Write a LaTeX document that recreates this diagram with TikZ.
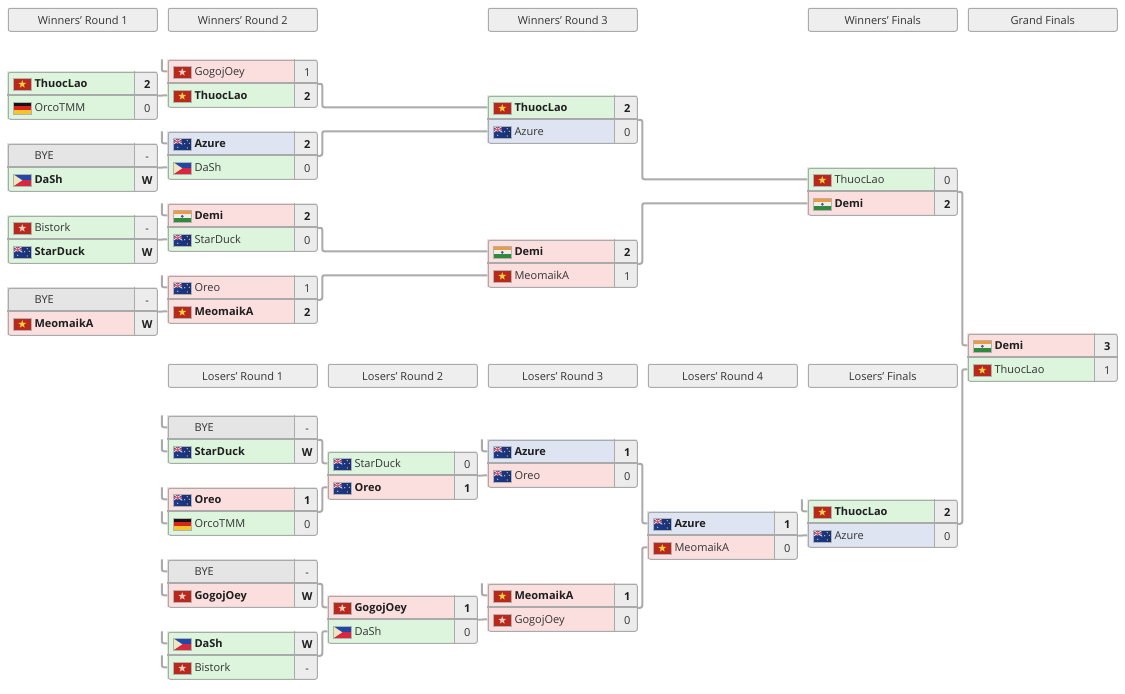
\documentclass[tikz,border=0pt]{standalone}
\usepackage{fontspec}
\setmainfont{Open Sans}
\definecolor{edge}{HTML}{AAAAAA}
\definecolor{rgreen}{HTML}{DDF4DD}
\definecolor{rred}{HTML}{FBDFDF}
\definecolor{rblue}{HTML}{DEE4F2}
\definecolor{rgrey}{HTML}{E5E5E5}
\definecolor{scorebg}{HTML}{ECECEC}
\definecolor{headbg}{HTML}{EEEEEE}
\definecolor{ink}{HTML}{333333}
\definecolor{flagredA}{HTML}{B9281A}
\definecolor{flagredB}{HTML}{E63D24}
\definecolor{flagstarY}{HTML}{F6D040}
\definecolor{flagstarW}{HTML}{F6C8C0}
\definecolor{flagnavy}{HTML}{1E3C8C}
\definecolor{flagnavyB}{HTML}{17306F}
\definecolor{flagcanton}{HTML}{5A4A86}
\definecolor{flagpink}{HTML}{E05A70}
\definecolor{flaggold}{HTML}{F2C62A}
\definecolor{flagderd}{HTML}{D8251B}
\definecolor{flagphb}{HTML}{2048A8}
\definecolor{flagphr}{HTML}{D8283F}
\definecolor{flagcream}{HTML}{EFE6C0}
\definecolor{flagorg}{HTML}{EE9A3E}
\definecolor{flaggrn}{HTML}{2F8A3C}
\definecolor{flagwhite}{HTML}{F0EEE6}
\tikzset{
  px/.style={x=0.75pt,y=-0.75pt},
  headbox/.style={draw=edge,line width=0.75pt,fill=headbg,rounded corners=1.5pt,minimum width=112.5pt-0.75pt,minimum height=18pt-0.75pt,inner sep=0pt,anchor=north west,text=ink,text height=7.7pt,text depth=0pt,font=\fontsize{8.25pt}{10pt}\selectfont},
  matchframe/.style={draw=edge,line width=0.75pt,rounded corners=1.5pt,minimum width=112.5pt-0.75pt,minimum height=36pt-0.75pt,inner sep=0pt,anchor=north west},
  rowbox/.style={minimum width=96pt,minimum height=18pt,inner sep=0pt,outer sep=0pt,anchor=north west},
  scorebox/.style={fill=scorebg,minimum width=16.5pt,minimum height=18pt,inner sep=0pt,outer sep=0pt,anchor=north west,text=ink,text height=7.7pt,text depth=0pt,font=\fontsize{8.25pt}{10pt}\selectfont},
  nametext/.style={inner sep=0pt,anchor=west,text=ink,text height=6.2pt,text depth=1.6pt,font=\fontsize{8.25pt}{10pt}\selectfont},
  conn/.style={draw=edge,line width=1.5pt,rounded corners=1.5pt},
  stub/.style={draw=edge,line width=1.5pt,rounded corners=1.5pt},
}
\newcommand{\starshape}[1]{\fill[#1] (9,1.9)--(9.95,4.7)--(12.9,4.75)--(10.55,6.5)--(11.4,9.3)--(9,7.65)--(6.6,9.3)--(7.45,6.5)--(5.1,4.75)--(8.05,4.7)--cycle;}
\newcommand{\flagvn}{\shade[left color=flagredA,middle color=flagredB,right color=flagredA] (0,0) rectangle (18,12);\starshape{flagstarY}}
\newcommand{\flaghk}{\shade[left color=flagredA,middle color=flagredB,right color=flagredA] (0,0) rectangle (18,12);\starshape{flagstarW}}
\newcommand{\flagde}{\fill[black!92] (0,0) rectangle (18,4);\fill[flagderd] (0,4) rectangle (18,8);\fill[flaggold] (0,8) rectangle (18,12);}
\newcommand{\flagau}{\shade[left color=flagnavy,right color=flagnavyB] (0,0) rectangle (18,12);
  \fill[flagcanton] (0,0) rectangle (9,6);
  \draw[flagwhite,line width=0.6pt] (0,0)--(9,6) (0,6)--(9,0);
  \draw[flagpink,line width=0.9pt] (4.5,0)--(4.5,6) (0,3)--(9,3);
  \foreach \p in {(4.5,9),(14,2.5),(11.5,5.5),(16,5),(14,9.8)}{\fill[white!85!blue] \p circle (0.65);}}
\newcommand{\flagph}{\fill[flagphb] (0,0) rectangle (18,6);\fill[flagphr] (0,6) rectangle (18,12);\fill[flagcream] (0,0)--(9,6)--(0,12)--cycle;}
\newcommand{\flagin}{\fill[flagorg] (0,0) rectangle (18,4);\fill[flagwhite] (0,4) rectangle (18,8);\fill[flaggrn] (0,8) rectangle (18,12);\fill[blue!40!gray] (9,6) circle (1.5);}
% row: name, x, y, flag, text, score, fill, font
\newcommand{\prow}[8]{%
  \node[rowbox,fill=#7] (#1) at (#2,#3) {};
  \node[scorebox] (#1s) at (#2+128,#3) {\hspace{1.5pt}#8#6};
  \node[nametext] (#1n) at (#2+27,#3+13) {#8#5};
  \ifx#4n\else
  \begin{scope}[shift={(#2+6,#3+7)}]
    \csname flag#4\endcsname
    \draw[black!30,line width=0.25pt] (0,0) rectangle (18,12);
  \end{scope}\fi
}
% frame: name, x, y
\newcommand{\mframe}[3]{%
  \node[matchframe] (#1) at (#2+0.5,#3+0.5) {};
  \draw[edge,line width=0.75pt] (#2+127.5,#3)--(#2+127.5,#3+48);
  \draw[edge,line width=1.5pt] (#2,#3+24)--(#2+150,#3+24);
}
\newcommand{\head}[4]{\node[headbox] (#1) at (#2+0.5,#3+0.5) {#4};}
\newcommand{\Bf}{\bfseries\color{black!88}}
\begin{document}
\begin{tikzpicture}[px]
\useasboundingbox (0.75,0.75) rectangle (1125.75,693.75);
\fill[white] (0,0) rectangle (1126,694);
% headers
\head{hwa}{8}{8}{Winners' Round 1}
\head{hwb}{168}{8}{Winners' Round 2}
\head{hwc}{488}{8}{Winners' Round 3}
\head{hwf}{808}{8}{Winners' Finals}
\head{hgf}{968}{8}{Grand Finals}
\head{hla}{168}{364}{Losers' Round 1}
\head{hlb}{328}{364}{Losers' Round 2}
\head{hlc}{488}{364}{Losers' Round 3}
\head{hld}{648}{364}{Losers' Round 4}
\head{hlf}{808}{364}{Losers' Finals}
% Winners' Round 1
\prow{wa1t}{8}{72}{vn}{ThuocLao}{2}{rgreen}{\Bf}
\prow{wa1b}{8}{96}{de}{OrcoTMM}{0}{rgreen}{}
\mframe{wa1}{8}{72}
\prow{wa2t}{8}{144}{n}{BYE}{-}{rgrey}{}
\prow{wa2b}{8}{168}{ph}{DaSh}{W}{rgreen}{\Bf}
\mframe{wa2}{8}{144}
\prow{wa3t}{8}{216}{hk}{Bistork}{-}{rgreen}{}
\prow{wa3b}{8}{240}{au}{StarDuck}{W}{rgreen}{\Bf}
\mframe{wa3}{8}{216}
\prow{wa4t}{8}{288}{n}{BYE}{-}{rgrey}{}
\prow{wa4b}{8}{312}{vn}{MeomaikA}{W}{rred}{\Bf}
\mframe{wa4}{8}{288}
% Winners' Round 2
\prow{wb1t}{168}{60}{hk}{GogojOey}{1}{rred}{}
\prow{wb1b}{168}{84}{vn}{ThuocLao}{2}{rgreen}{\Bf}
\mframe{wb1}{168}{60}
\prow{wb2t}{168}{132}{au}{Azure}{2}{rblue}{\Bf}
\prow{wb2b}{168}{156}{ph}{DaSh}{0}{rgreen}{}
\mframe{wb2}{168}{132}
\prow{wb3t}{168}{204}{in}{Demi}{2}{rred}{\Bf}
\prow{wb3b}{168}{228}{au}{StarDuck}{0}{rgreen}{}
\mframe{wb3}{168}{204}
\prow{wb4t}{168}{276}{au}{Oreo}{1}{rred}{}
\prow{wb4b}{168}{300}{vn}{MeomaikA}{2}{rred}{\Bf}
\mframe{wb4}{168}{276}
% Winners' Round 3
\prow{wc1t}{488}{96}{vn}{ThuocLao}{2}{rgreen}{\Bf}
\prow{wc1b}{488}{120}{au}{Azure}{0}{rblue}{}
\mframe{wc1}{488}{96}
\prow{wc2t}{488}{240}{in}{Demi}{2}{rred}{\Bf}
\prow{wc2b}{488}{264}{vn}{MeomaikA}{1}{rred}{}
\mframe{wc2}{488}{240}
% Winners' Finals
\prow{wft}{808}{168}{vn}{ThuocLao}{0}{rgreen}{}
\prow{wfb}{808}{192}{in}{Demi}{2}{rred}{\Bf}
\mframe{wf}{808}{168}
% Grand Finals
\prow{gft}{968}{334}{in}{Demi}{3}{rred}{\Bf}
\prow{gfb}{968}{358}{vn}{ThuocLao}{1}{rgreen}{}
\mframe{gf}{968}{334}
% Losers' Round 1
\prow{la1t}{168}{416}{n}{BYE}{-}{rgrey}{}
\prow{la1b}{168}{440}{au}{StarDuck}{W}{rgreen}{\Bf}
\mframe{la1}{168}{416}
\prow{la2t}{168}{488}{au}{Oreo}{1}{rred}{\Bf}
\prow{la2b}{168}{512}{de}{OrcoTMM}{0}{rgreen}{}
\mframe{la2}{168}{488}
\prow{la3t}{168}{560}{n}{BYE}{-}{rgrey}{}
\prow{la3b}{168}{584}{hk}{GogojOey}{W}{rred}{\Bf}
\mframe{la3}{168}{560}
\prow{la4t}{168}{632}{ph}{DaSh}{W}{rgreen}{\Bf}
\prow{la4b}{168}{656}{hk}{Bistork}{-}{rgreen}{}
\mframe{la4}{168}{632}
% Losers' Round 2
\prow{lb1t}{328}{452}{au}{StarDuck}{0}{rgreen}{}
\prow{lb1b}{328}{476}{au}{Oreo}{1}{rred}{\Bf}
\mframe{lb1}{328}{452}
\prow{lb2t}{328}{596}{hk}{GogojOey}{1}{rred}{\Bf}
\prow{lb2b}{328}{620}{ph}{DaSh}{0}{rgreen}{}
\mframe{lb2}{328}{596}
% Losers' Round 3
\prow{lc1t}{488}{440}{au}{Azure}{1}{rblue}{\Bf}
\prow{lc1b}{488}{464}{au}{Oreo}{0}{rred}{}
\mframe{lc1}{488}{440}
\prow{lc2t}{488}{584}{vn}{MeomaikA}{1}{rred}{\Bf}
\prow{lc2b}{488}{608}{hk}{GogojOey}{0}{rred}{}
\mframe{lc2}{488}{584}
% Losers' Round 4
\prow{ldt}{648}{512}{au}{Azure}{1}{rblue}{\Bf}
\prow{ldb}{648}{536}{vn}{MeomaikA}{0}{rred}{}
\mframe{ld}{648}{512}
% Losers' Finals
\prow{lft}{808}{500}{vn}{ThuocLao}{2}{rgreen}{\Bf}
\prow{lfb}{808}{524}{au}{Azure}{0}{rblue}{}
\mframe{lf}{808}{500}
% straight connectors
\draw[conn] (wa1.east) -- (wb1b.west);
\draw[conn] (wa2.east) -- (wb2b.west);
\draw[conn] (wa3.east) -- (wb3b.west);
\draw[conn] (wa4.east) -- (wb4b.west);
\draw[conn] (lb1.east) -- (lc1b.west);
\draw[conn] (lb2.east) -- (lc2b.west);
\draw[conn] (ld.east) -- (lfb.west);
% elbow connectors: out of the right edge, along a lane 4.5px away, into the row
\newcommand{\elbow}[2]{\draw[conn] (#1.east) -- ++(4.5,0) |- (#2.west);}
\elbow{wb1}{wc1t}
\elbow{wb2}{wc1b}
\elbow{wb3}{wc2t}
\elbow{wb4}{wc2b}
\elbow{wc1}{wft}
\elbow{wc2}{wfb}
\elbow{wf}{gft}
\elbow{lf}{gfb}
\elbow{la1}{lb1t}
\elbow{la2}{lb1b}
\elbow{la3}{lb2t}
\elbow{la4}{lb2b}
\elbow{lc1}{ldt}
\elbow{lc2}{ldb}
% stubs from the bracket lane
\newcommand{\stubto}[1]{\coordinate (#1from) at ([shift={(-5.5,-12)}]#1.west);\draw[stub] (#1from) |- (#1.west);}
\stubto{wb1t}\stubto{wb2t}\stubto{wb3t}\stubto{wb4t}
\stubto{la1t}\stubto{la1b}\stubto{la2t}\stubto{la2b}
\stubto{la3t}\stubto{la3b}\stubto{la4t}\stubto{la4b}
\stubto{lc1t}\stubto{lc2t}\stubto{lft}
\end{tikzpicture}
\end{document}
